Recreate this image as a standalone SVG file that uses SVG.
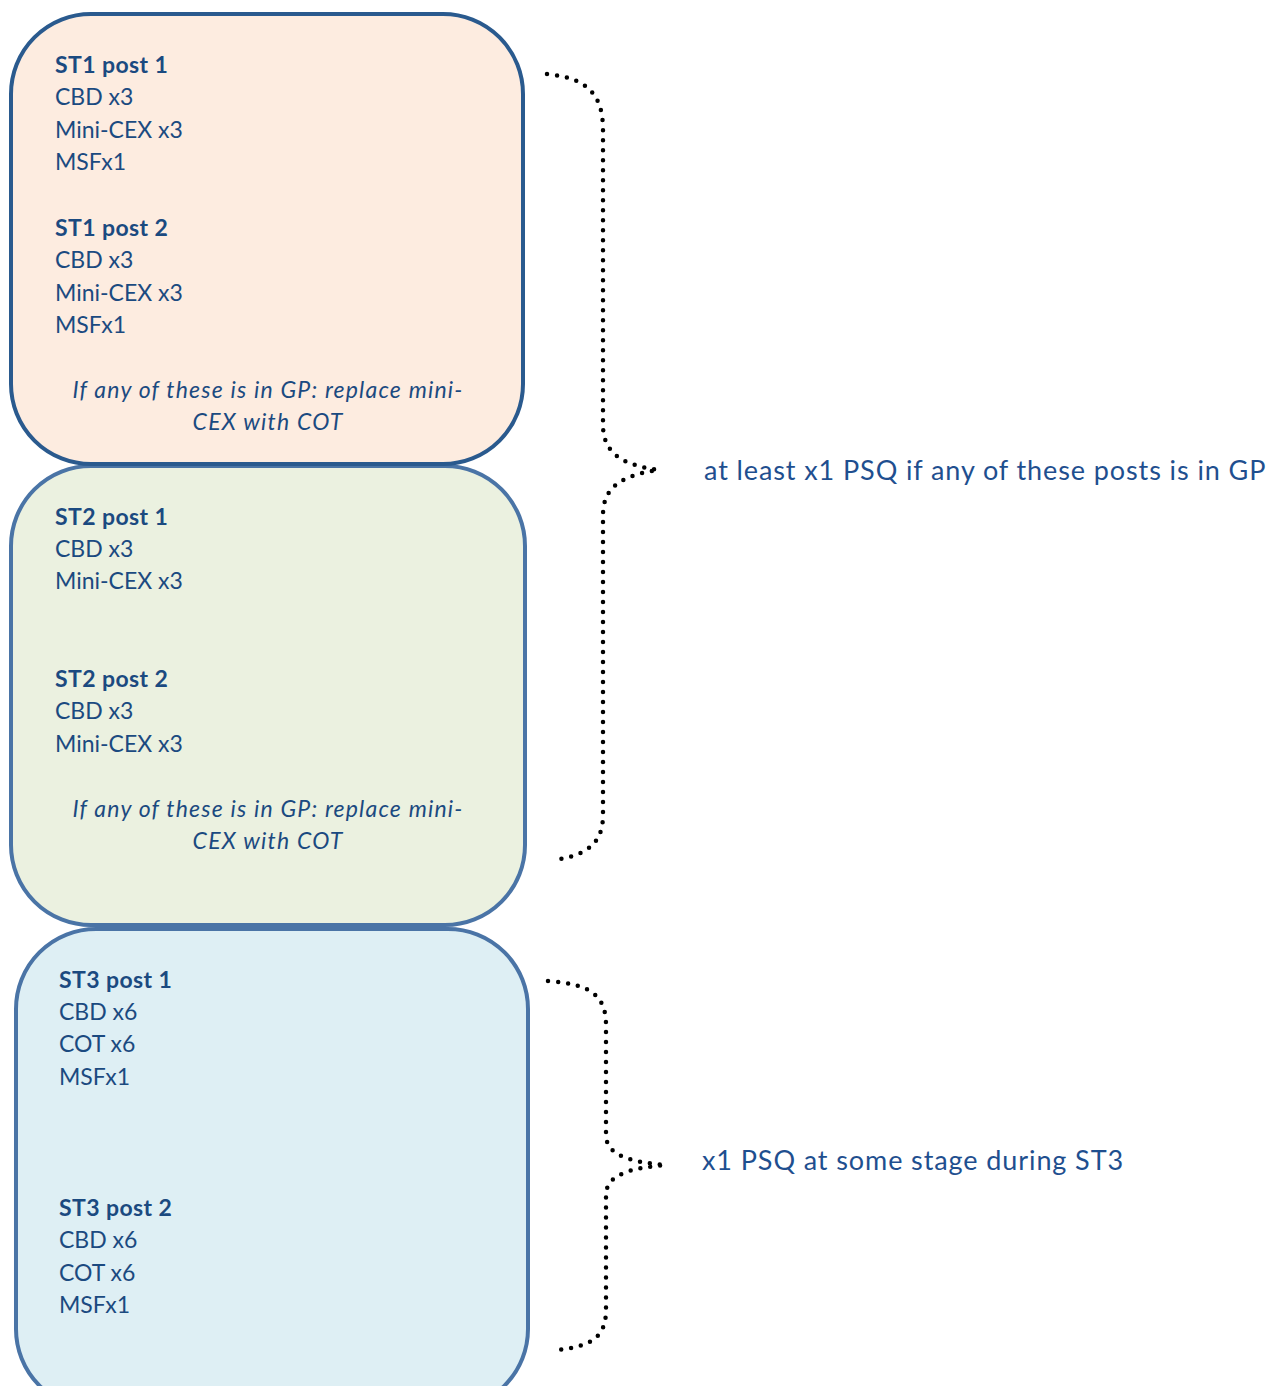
<svg xmlns="http://www.w3.org/2000/svg" width="1270" height="1386" viewBox="0 0 1270 1386">
<style>
text{font-family:Lato,"Open Sans","Liberation Sans",sans-serif;font-size:23px;fill:#1b4a80}
.b{font-weight:bold;letter-spacing:0.4px}
.i{font-style:italic;text-anchor:middle;letter-spacing:1.2px}
.r{font-size:27px;fill:#1f4f8f;letter-spacing:0.9px}
.brace{fill:none;stroke:#000;stroke-width:4.5;stroke-linecap:round;stroke-dasharray:0 10}
</style>
<rect width="1270" height="1386" fill="#fff"/>
<g id="st3">
<rect x="16" y="929" width="512" height="480" rx="80" fill="#deeff4" stroke="#4a74a6" stroke-width="4"/>
<text x="59" y="988" class="b">ST3 post 1</text>
<text x="59" y="1020">CBD x6</text>
<text x="59" y="1052">COT x6</text>
<text x="59" y="1085">MSFx1</text>
<text x="59" y="1216" class="b">ST3 post 2</text>
<text x="59" y="1248">CBD x6</text>
<text x="59" y="1281">COT x6</text>
<text x="59" y="1313">MSFx1</text>
</g>
<g id="st2">
<rect x="11" y="466" width="514" height="459" rx="80" fill="#ebf1e0" stroke="#4a74a6" stroke-width="4"/>
<text x="55" y="525" class="b">ST2 post 1</text>
<text x="55" y="557">CBD x3</text>
<text x="55" y="589">Mini-CEX x3</text>
<text x="55" y="687" class="b">ST2 post 2</text>
<text x="55" y="719">CBD x3</text>
<text x="55" y="752">Mini-CEX x3</text>
<text x="268" y="817" class="i">If any of these is in GP: replace mini-</text>
<text x="268" y="849" class="i">CEX with COT</text>
</g>
<g id="st1">
<rect x="11" y="14" width="512" height="450" rx="80" fill="#fdece0" stroke="#2a5a8e" stroke-width="4"/>
<text x="55" y="73" class="b">ST1 post 1</text>
<text x="55" y="105">CBD x3</text>
<text x="55" y="138">Mini-CEX x3</text>
<text x="55" y="170">MSFx1</text>
<text x="55" y="236" class="b">ST1 post 2</text>
<text x="55" y="268">CBD x3</text>
<text x="55" y="301">Mini-CEX x3</text>
<text x="55" y="333">MSFx1</text>
<text x="268" y="398" class="i">If any of these is in GP: replace mini-</text>
<text x="268" y="430" class="i">CEX with COT</text>
</g>
<g id="connectors">
<path class="brace" d="M547 74 C585 78 603 92 603 130 L603 425 C603 455 625 465 658 470 C625 475 603 485 603 515 L603 815 C603 845 585 855 555 860"/>
<path class="brace" d="M548 981 C590 984 606 995 606 1025 L606 1135 C606 1155 630 1162 665 1165 C630 1168 606 1175 606 1195 L606 1310 C606 1338 590 1347 555 1350"/>
</g>
<g id="label1"><text x="704" y="480" class="r">at least x1 PSQ if any of these posts is in GP</text></g>
<g id="label2"><text x="702" y="1170" class="r">x1 PSQ at some stage during ST3</text></g>
</svg>
